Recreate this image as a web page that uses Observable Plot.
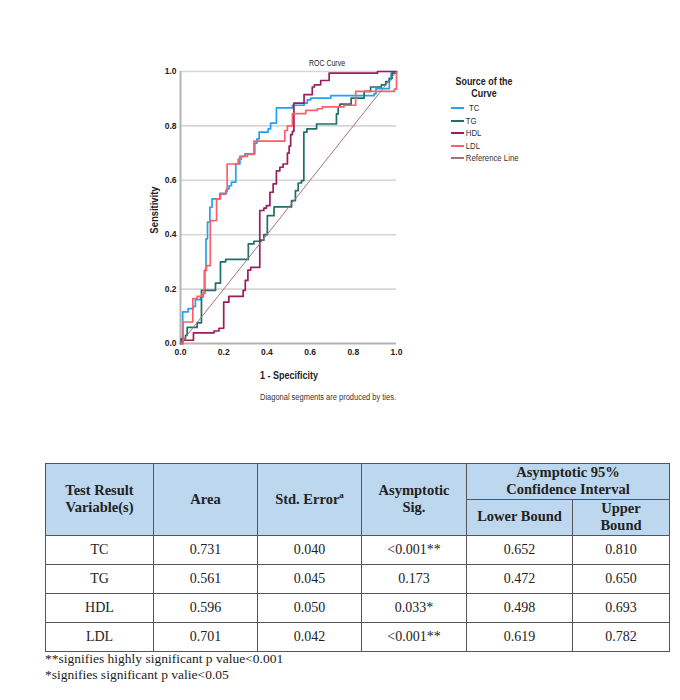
<!DOCTYPE html>
<html>
<head>
<meta charset="utf-8">
<script src="https://cdn.jsdelivr.net/npm/d3@7"></script>
<script src="https://cdn.jsdelivr.net/npm/@observablehq/plot@0.6"></script>
<style>
  html, body { margin: 0; padding: 0; background: #fff; }
  #page { position: relative; width: 680px; height: 700px; overflow: hidden; }
  .lbl { position: absolute; white-space: nowrap; font-family: "Liberation Sans", Arial, sans-serif; color: #222; line-height: 1; }
  .legend-item { position: absolute; display: flex; align-items: center; font-family: "Liberation Sans", Arial, sans-serif; font-size: 9.5px; color: #333; line-height: 1; transform: scaleX(0.82); transform-origin: left center; }
  table.auc { position: absolute; left: 45px; top: 463px; width: 624px; border-collapse: collapse; font-family: "Liberation Serif", "Times New Roman", serif; font-size: 14px; color: #222; table-layout: fixed; }
  table.auc th, table.auc td { border: 1px solid #555; text-align: center; padding: 0; }
  table.auc th { background: #bdd7ee; font-weight: bold; font-size: 14.5px; line-height: 1.2; }
  table.auc td { height: 28px; }
  table.auc sup { font-size: 9px; }
  .note { position: absolute; left: 45px; font-family: "Liberation Serif", "Times New Roman", serif; font-size: 13.5px; color: #222; white-space: nowrap; }
</style>
</head>
<body>
<div id="page"></div>
<script>
// ROC curve coordinates (1 - specificity, sensitivity) at each step of the staircase
const tcFpr  = [0, 0.01, 0.035, 0.059, 0.069, 0.093, 0.105, 0.113, 0.118, 0.125, 0.136, 0.146, 0.182, 0.213, 0.225, 0.236, 0.256, 0.275, 0.298, 0.344, 0.354, 0.364, 0.406, 0.417, 0.444, 0.518, 0.572, 0.587, 0.603, 0.696, 0.896, 0.905, 0.967, 0.975, 0.995, 1.0];
const tcTpr  = [0, 0.116, 0.128, 0.136, 0.161, 0.171, 0.185, 0.27, 0.385, 0.446, 0.501, 0.532, 0.552, 0.568, 0.58, 0.593, 0.66, 0.688, 0.697, 0.737, 0.752, 0.777, 0.789, 0.81, 0.866, 0.876, 0.884, 0.896, 0.902, 0.911, 0.918, 0.937, 0.97, 0.994, 1.0, 1.0];

const tgFpr  = [0, 0.003, 0.023, 0.031, 0.077, 0.097, 0.162, 0.185, 0.209, 0.314, 0.34, 0.371, 0.386, 0.402, 0.433, 0.514, 0.532, 0.545, 0.56, 0.571, 0.585, 0.63, 0.722, 0.73, 0.738, 0.79, 0.85, 0.88, 0.93, 0.95, 0.966, 0.98, 1.0];
const tgTpr  = [0, 0.018, 0.03, 0.059, 0.076, 0.195, 0.222, 0.3, 0.309, 0.366, 0.376, 0.38, 0.4, 0.47, 0.502, 0.525, 0.562, 0.59, 0.599, 0.777, 0.789, 0.807, 0.844, 0.871, 0.88, 0.902, 0.927, 0.943, 0.951, 0.963, 0.975, 0.994, 1.0];

const hdlFpr = [0, 0.012, 0.06, 0.155, 0.178, 0.2, 0.224, 0.29, 0.3, 0.312, 0.325, 0.367, 0.386, 0.398, 0.414, 0.429, 0.444, 0.46, 0.475, 0.495, 0.503, 0.51, 0.518, 0.525, 0.572, 0.61, 0.62, 0.649, 0.688, 0.912, 1.0];
const hdlTpr = [0, 0.012, 0.039, 0.046, 0.056, 0.152, 0.173, 0.195, 0.232, 0.27, 0.28, 0.489, 0.498, 0.507, 0.556, 0.587, 0.635, 0.648, 0.66, 0.70, 0.726, 0.768, 0.78, 0.884, 0.915, 0.943, 0.951, 0.967, 0.994, 1.0, 1.0];

const ldlFpr = [0, 0.012, 0.057, 0.077, 0.1, 0.11, 0.12, 0.138, 0.167, 0.185, 0.209, 0.216, 0.267, 0.282, 0.31, 0.34, 0.483, 0.495, 0.518, 0.58, 0.634, 0.657, 0.757, 0.811, 0.99, 1.0];
const ldlTpr = [0, 0.079, 0.165, 0.173, 0.183, 0.268, 0.286, 0.452, 0.532, 0.549, 0.56, 0.66, 0.678, 0.688, 0.695, 0.744, 0.783, 0.8, 0.845, 0.857, 0.863, 0.87, 0.876, 0.927, 0.935, 1.0];

const refFpr = [0, 1];
const refTpr = [0, 1];

const seriesNames  = ["TC", "TG", "HDL", "LDL", "Reference Line"];
const seriesColors = ["#25a0f2", "#1f6e69", "#9d1c5c", "#fb5f6a", "#a6727a"];

const axisTicks = [0, 0.2, 0.4, 0.6, 0.8, 1.0];
const gridTicks = [0.2, 0.4, 0.6, 0.8, 1.0];

// Area-under-curve summary table
const tableHeaders = ["Test Result Variable(s)", "Area", "Std. Error", "Asymptotic Sig.", "Asymptotic 95% Confidence Interval", "Lower Bound", "Upper Bound"];
const variables = ["TC", "TG", "HDL", "LDL"];
const areas     = ["0.731", "0.561", "0.596", "0.701"];
const stdErrors = ["0.040", "0.045", "0.050", "0.042"];
const sigValues = ["<0.001**", "0.173", "0.033*", "<0.001**"];
const lowerBounds = ["0.652", "0.472", "0.498", "0.619"];
const upperBounds = ["0.810", "0.650", "0.693", "0.782"];
const footnotes = ["**signifies highly significant p value<0.001", "*signifies significant p valie<0.05"];

const toPoints = (xs, ys) => xs.map((x, i) => ({x, y: ys[i]}));
const curves = [
  toPoints(tcFpr, tcTpr),
  toPoints(tgFpr, tgTpr),
  toPoints(hdlFpr, hdlTpr),
  toPoints(ldlFpr, ldlTpr)
];
const refLine = toPoints(refFpr, refTpr);

const page = document.getElementById("page");

const chart = Plot.plot({
  width: 680,
  height: 420,
  marginLeft: 180,
  marginRight: 284,
  marginTop: 71,
  marginBottom: 77,
  x: {domain: [0, 1]},
  y: {domain: [0, 1]},
  style: {
    fontFamily: '"Liberation Sans", Arial, sans-serif',
    fontSize: "8.5px",
    fontWeight: "bold",
    color: "#222",
    background: "transparent"
  },
  marks: [
    Plot.gridY(gridTicks, {stroke: "#d6d6d6", strokeOpacity: 1, strokeWidth: 1.6}),
    Plot.ruleX([0], {stroke: "#b4b4b4", strokeWidth: 2}),
    Plot.ruleY([0], {stroke: "#b4b4b4", strokeWidth: 2}),
    Plot.axisX({ticks: axisTicks, tickFormat: d3.format(".1f"), tickSize: 0, tickPadding: 5, label: null}),
    Plot.axisY({ticks: axisTicks, tickFormat: d3.format(".1f"), tickSize: 0, tickPadding: 4, label: null}),
    ...curves.map((pts, i) => Plot.line(pts, {x: "x", y: "y", curve: "step-after", stroke: seriesColors[i], strokeWidth: 1.7})),
    Plot.line(refLine, {x: "x", y: "y", stroke: seriesColors[4], strokeWidth: 1})
  ]
});
chart.style.position = "absolute";
chart.style.left = "0px";
chart.style.top = "0px";
page.appendChild(chart);

// text placed at a centre point, optionally condensed horizontally
function label(text, cx, cy, css, rotate, squeeze) {
  const d = document.createElement("div");
  d.className = "lbl";
  d.textContent = text;
  Object.assign(d.style, css || {});
  d.style.left = cx + "px";
  d.style.top = cy + "px";
  d.style.transform = "translate(-50%, -50%)" + (rotate ? " rotate(-90deg)" : "") + (squeeze ? ` scaleX(${squeeze})` : "");
  page.appendChild(d);
  return d;
}

label("ROC Curve", 327, 63, {fontSize: "8.5px"}, false, 0.82);
label("Sensitivity", 154, 210, {fontSize: "10.5px", fontWeight: "bold"}, true, 0.9);
label("1 - Specificity", 289, 376, {fontSize: "11.5px", fontWeight: "bold"}, false, 0.78);
label("Diagonal segments are produced by ties.", 328, 397, {fontSize: "8.5px", color: "#333"}, false, 0.88);

// legend
label("Source of the", 484, 81, {fontSize: "10.5px", fontWeight: "bold"}, false, 0.85);
label("Curve", 484, 93, {fontSize: "10.5px", fontWeight: "bold"}, false, 0.85);
const legendY = [108, 121, 133, 146, 158];
seriesNames.forEach((name, i) => {
  const item = document.createElement("div");
  item.className = "legend-item";
  item.style.left = "451px";
  item.style.top = (legendY[i] - 6) + "px";
  item.innerHTML = `<svg width="16" height="12" style="margin-right:${i === 0 ? 6 : 2}px"><line x1="0" x2="16" y1="6" y2="6" stroke="${seriesColors[i]}" stroke-width="2"/></svg><span>${name}</span>`;
  page.appendChild(item);
});

// AUC table
const table = document.createElement("table");
table.className = "auc";
table.innerHTML = `
  <colgroup>
    <col style="width:108px"><col style="width:104px"><col style="width:104px"><col style="width:105px"><col style="width:106px"><col style="width:97px">
  </colgroup>
  <thead>
    <tr style="height:34px">
      <th rowspan="2">Test Result<br>Variable(s)</th>
      <th rowspan="2">${tableHeaders[1]}</th>
      <th rowspan="2">${tableHeaders[2]}<sup>a</sup></th>
      <th rowspan="2">Asymptotic<br>Sig.</th>
      <th colspan="2">Asymptotic 95%<br>Confidence Interval</th>
    </tr>
    <tr style="height:35px">
      <th>${tableHeaders[5]}</th>
      <th>Upper<br>Bound</th>
    </tr>
  </thead>
  <tbody>
    ${variables.map((v, i) => `<tr><td>${v}</td><td>${areas[i]}</td><td>${stdErrors[i]}</td><td>${sigValues[i].replace("<", "&lt;")}</td><td>${lowerBounds[i]}</td><td>${upperBounds[i]}</td></tr>`).join("")}
  </tbody>`;
page.appendChild(table);

footnotes.forEach((t, i) => {
  const n = document.createElement("div");
  n.className = "note";
  n.textContent = t;
  n.style.top = (651 + i * 16) + "px";
  page.appendChild(n);
});
</script>
</body>
</html>
